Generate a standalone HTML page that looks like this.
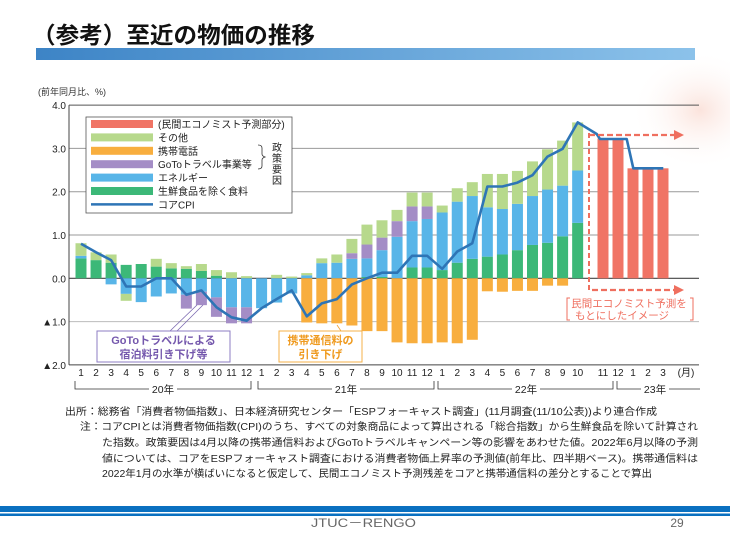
<!DOCTYPE html>
<html><head><meta charset="utf-8">
<style>
html,body{margin:0;padding:0;background:#fff;}
body{width:730px;height:548px;overflow:hidden;position:relative;font-family:"Liberation Sans","Noto Sans CJK JP",sans-serif;}
svg text{font-family:"Liberation Sans","Noto Sans CJK JP",sans-serif;}
</style></head><body>
<svg id="s" width="730" height="548" viewBox="0 0 730 548" xmlns="http://www.w3.org/2000/svg">
<defs>
<linearGradient id="hb" x1="0" x2="1" y1="0" y2="0"><stop offset="0" stop-color="#3d84c6"/><stop offset="1" stop-color="#8cc2ea"/></linearGradient>
<radialGradient id="pk" cx="0.5" cy="0.5" r="0.5"><stop offset="0" stop-color="#fbe3dc"/><stop offset="1" stop-color="#fff" stop-opacity="0"/></radialGradient>
</defs>
<ellipse cx="700" cy="110" rx="70" ry="60" fill="url(#pk)"/>
<text x="32" y="43" font-size="23" font-weight="bold" fill="#111" textLength="283" lengthAdjust="spacingAndGlyphs">（参考）至近の物価の推移</text>
<rect x="36" y="48" width="659" height="12" fill="url(#hb)"/>
<text x="38" y="95" font-size="9" fill="#333">(前年同月比、%)</text>
<g id="grid"></g>
<g id="bars"></g>
<g id="rest"></g>
</svg>
<script>
const NS="http://www.w3.org/2000/svg";
const S=document.getElementById('s');
function el(t,a,p,txt){const e=document.createElementNS(NS,t);for(const k in a)e.setAttribute(k,a[k]);if(txt!==undefined)e.textContent=txt;(p||S).appendChild(e);return e;}
const Y=v=>278.3-43.3*v;
const G=document.getElementById('grid'),B=document.getElementById('bars'),R=document.getElementById('rest');
[[4,'#555'],[3,'#999'],[2,'#999'],[1,'#999'],[0,'#444'],[-1,'#bbb']].forEach(([v,c])=>el('line',{x1:69,x2:699,y1:Y(v),y2:Y(v),stroke:c,'stroke-width':v==0?1.2:1},G));
el('line',{x1:69,x2:69,y1:Y(4),y2:Y(-2),stroke:'#444'},G);
el('line',{x1:69,x2:699,y1:Y(-2),y2:Y(-2),stroke:'#444'},G);
[['4.0',4],['3.0',3],['2.0',2],['1.0',1],['0.0',0],['▲1.0',-1],['▲2.0',-2]].forEach(([t,v])=>el('text',{x:66,y:Y(v)+4,'font-size':10,'text-anchor':'end',fill:'#222'},G,t));
const C={g:'#3cb878',b:'#58b5e8',p:'#a48dc6',l:'#b7d98c',o:'#f8ae3e',r:'#f07465'};
const D=[
[[['g',.46],['b',.52],['l',.81]],[]],
[[['g',.42],['l',.6]],[]],
[[['g',.36],['l',.55]],[['b',-.14]]],
[[['g',.31]],[['b',-.36],['l',-.52]]],
[[['g',.33]],[['b',-.55]]],
[[['g',.27],['l',.45]],[['b',-.42]]],
[[['g',.23],['l',.35]],[['b',-.35]]],
[[['g',.22],['l',.28]],[['b',-.38],['p',-.7]]],
[[['g',.17],['l',.33]],[['b',-.31],['p',-.62]]],
[[['g',.06],['l',.19]],[['b',-.44],['p',-.89]]],
[[['l',.14]],[['b',-.67],['p',-1.04]]],
[[['l',.05]],[['b',-.67],['p',-1.04]]],
[[],[['b',-.69]]],
[[['l',.08]],[['b',-.56]]],
[[['l',.04]],[['b',-.35]]],
[[['b',.07],['l',.12]],[['o',-1.02]]],
[[['b',.35],['l',.46]],[['o',-1.04]]],
[[['b',.36],['l',.55]],[['o',-1.04]]],
[[['b',.45],['p',.58],['l',.91]],[['o',-1.09]]],
[[['g',.03],['b',.46],['p',.78],['l',1.24]],[['o',-1.22]]],
[[['g',.03],['b',.65],['p',.94],['l',1.34]],[['o',-1.22]]],
[[['b',.96],['p',1.32],['l',1.58]],[['o',-1.48]]],
[[['g',.25],['b',1.32],['p',1.66],['l',1.98]],[['o',-1.5]]],
[[['g',.25],['b',1.37],['p',1.66],['l',1.98]],[['o',-1.5]]],
[[['g',.19],['b',1.52],['l',1.68]],[['o',-1.48]]],
[[['g',.36],['b',1.77],['l',2.08]],[['o',-1.5]]],
[[['g',.45],['b',1.9],['l',2.22]],[['o',-1.42]]],
[[['g',.5],['b',1.64],['l',2.41]],[['o',-.3]]],
[[['g',.55],['b',1.6],['l',2.41]],[['o',-.31]]],
[[['g',.65],['b',1.72],['l',2.48]],[['o',-.29]]],
[[['g',.77],['b',1.9],['l',2.7]],[['o',-.29]]],
[[['g',.82],['b',2.05],['l',2.98]],[['o',-.17]]],
[[['g',.97],['b',2.14],['l',3.18]],[['o',-.17]]],
[[['g',1.28],['b',2.49],['l',3.6]],[]]
];
const X=i=>81+15.05*i;const W=11;
D.forEach((d,i)=>{let prev=0;d[0].forEach(([c,v])=>{el('rect',{x:X(i)-W/2,y:Y(v),width:W,height:Y(prev)-Y(v),fill:C[c]},B);prev=v;});
prev=0;d[1].forEach(([c,v])=>{el('rect',{x:X(i)-W/2,y:Y(prev),width:W,height:Y(v)-Y(prev),fill:C[c]},B);prev=v;});});
const FX=[603,618,633,648,663],FV=[3.23,3.23,2.54,2.54,2.54];
FX.forEach((x,k)=>el('rect',{x:x-W/2,y:Y(FV[k]),width:W,height:Y(0)-Y(FV[k]),fill:C.r},B));
const L=[.8,.6,.42,-.19,-.19,0,0,-.38,-.28,-.67,-.9,-.98,-.69,-.48,-.28,-.88,-.58,-.48,-.14,0,.13,.13,.52,.52,.22,.62,.81,2.12,2.12,2.21,2.38,2.81,2.99,3.6];
let pts=L.map((v,i)=>X(i).toFixed(1)+','+Y(v).toFixed(1));
pts.push('596.7,134','600,139','626.7,139','633.3,168.3','663.3,168.3');
el('polyline',{points:pts.join(' '),fill:'none',stroke:'#2e75b6','stroke-width':2.6,'stroke-linejoin':'round'},R);
const red='#ef6f5f';
el('line',{x1:589,y1:133,x2:589,y2:290,stroke:red,'stroke-width':2,'stroke-dasharray':'5,3'},R);
el('line',{x1:589,y1:135,x2:676,y2:135,stroke:red,'stroke-width':2.2,'stroke-dasharray':'6,3'},R);
el('line',{x1:592,y1:290,x2:676,y2:290,stroke:red,'stroke-width':2.2,'stroke-dasharray':'6,3'},R);
el('polygon',{points:'674,130 684,135 674,140',fill:red},R);
el('polygon',{points:'674,285 684,290 674,295',fill:red},R);
el('path',{d:'M570,298 h-3 v22 h3 M690,298 h3 v22 h-3',fill:'none',stroke:red,'stroke-width':1},R);
el('text',{x:629,y:307,'font-size':10.5,'text-anchor':'middle',fill:red},R,'民間エコノミスト予測を');
el('text',{x:622,y:319,'font-size':10.5,'text-anchor':'middle',fill:red},R,'もとにしたイメージ');
el('line',{x1:170,y1:331,x2:197,y2:305,stroke:'#7b68b0','stroke-width':.8},R);
el('line',{x1:177,y1:331,x2:203,y2:305,stroke:'#7b68b0','stroke-width':.8},R);
el('rect',{x:97,y:331,width:133,height:31,fill:'#fff',stroke:'#8e7cc3','stroke-width':1},R);
el('text',{x:163.5,y:344,'font-size':11,'text-anchor':'middle',fill:'#7558ad','font-weight':'bold'},R,'GoToトラベルによる');
el('text',{x:163.5,y:358,'font-size':11,'text-anchor':'middle',fill:'#7558ad','font-weight':'bold'},R,'宿泊料引き下げ等');
el('line',{x1:337,y1:325,x2:341,y2:331,stroke:'#f0a030','stroke-width':.8},R);
el('rect',{x:279,y:331,width:83,height:31,fill:'#fff',stroke:'#f5b04a','stroke-width':1},R);
el('text',{x:320.5,y:344,'font-size':11,'text-anchor':'middle',fill:'#ef9a1e','font-weight':'bold'},R,'携帯通信料の');
el('text',{x:320.5,y:358,'font-size':11,'text-anchor':'middle',fill:'#ef9a1e','font-weight':'bold'},R,'引き下げ');
el('rect',{x:86,y:117,width:206,height:96,fill:'#fff',stroke:'#555','stroke-width':.8},R);
const LG=[['r','(民間エコノミスト予測部分)'],['l','その他'],['o','携帯電話'],['p','GoToトラベル事業等'],['b','エネルギー'],['g','生鮮食品を除く食料'],['line','コアCPI']];
LG.forEach(([c,t],k)=>{const y=124+13.4*k;
 if(c=='line')el('line',{x1:91,x2:153,y1:y,y2:y,stroke:'#2e75b6','stroke-width':2.5},R);
 else el('rect',{x:91,y:y-4,width:62,height:8,fill:C[c]},R);
 el('text',{x:158,y:y+4,'font-size':10,fill:'#222'},R,t);});
el('path',{d:'M258,145 q4,0 4,3 v6 q0,2 3,3 q-3,1 -3,3 v6 q0,3 -4,3',fill:'none',stroke:'#333','stroke-width':.8},R);
['政','策','要','因'].forEach((t,k)=>el('text',{x:277,y:151+11*k,'font-size':10,'text-anchor':'middle',fill:'#222'},R,t));
for(let i=0;i<34;i++){const m=(i%12)+1;el('text',{x:X(i),y:376,'font-size':10,'text-anchor':'middle',fill:'#222'},R,String(m));}
['11','12','1','2','3'].forEach((t,k)=>el('text',{x:FX[k],y:376,'font-size':10,'text-anchor':'middle',fill:'#222'},R,t));
el('text',{x:686,y:376,'font-size':10,'text-anchor':'middle',fill:'#222'},R,'(月)');
const br=[[75,251,'20年',163],[258,434,'21年',346],[438,613,'22年',526],[617,700,'23年',655]];
br.forEach(([a,b,t,c],k)=>{
 el('path',{d:`M${a},381 v8 H${c-14} M${c+14},389 H${b}`+(k<3?` v-8`:''),fill:'none',stroke:'#333','stroke-width':.8},R);
 el('text',{x:c,y:393,'font-size':10.5,'text-anchor':'middle',fill:'#222'},R,t);});
el('text',{x:65,y:415,'font-size':10,fill:'#222',textLength:592,lengthAdjust:'spacingAndGlyphs'},R,'出所：総務省「消費者物価指数」、日本経済研究センター「ESPフォーキャスト調査」(11月調査(11/10公表))より連合作成');
el('text',{x:80,y:430,'font-size':10,fill:'#222',textLength:618,lengthAdjust:'spacingAndGlyphs'},R,'注：コアCPIとは消費者物価指数(CPI)のうち、すべての対象商品によって算出される「総合指数」から生鮮食品を除いて計算され');
el('text',{x:102,y:446,'font-size':10,fill:'#222',textLength:596,lengthAdjust:'spacingAndGlyphs'},R,'た指数。政策要因は4月以降の携帯通信料およびGoToトラベルキャンペーン等の影響をあわせた値。2022年6月以降の予測');
el('text',{x:102,y:462,'font-size':10,fill:'#222',textLength:596,lengthAdjust:'spacingAndGlyphs'},R,'値については、コアをESPフォーキャスト調査における消費者物価上昇率の予測値(前年比、四半期ベース)。携帯通信料は');
el('text',{x:102,y:477,'font-size':10,fill:'#222',textLength:550,lengthAdjust:'spacingAndGlyphs'},R,'2022年1月の水準が横ばいになると仮定して、民間エコノミスト予測残差をコアと携帯通信料の差分とすることで算出');
el('rect',{x:0,y:506,width:730,height:6,fill:'#0a70c0'},R);
el('rect',{x:0,y:513.5,width:730,height:2.5,fill:'#0a70c0'},R);
el('text',{x:311,y:527,'font-size':12,fill:'#666',textLength:105,lengthAdjust:'spacingAndGlyphs'},R,'JTUC－RENGO');
el('text',{x:677,y:527,'font-size':12,'text-anchor':'middle',fill:'#666'},R,'29');
</script>
</body></html>
